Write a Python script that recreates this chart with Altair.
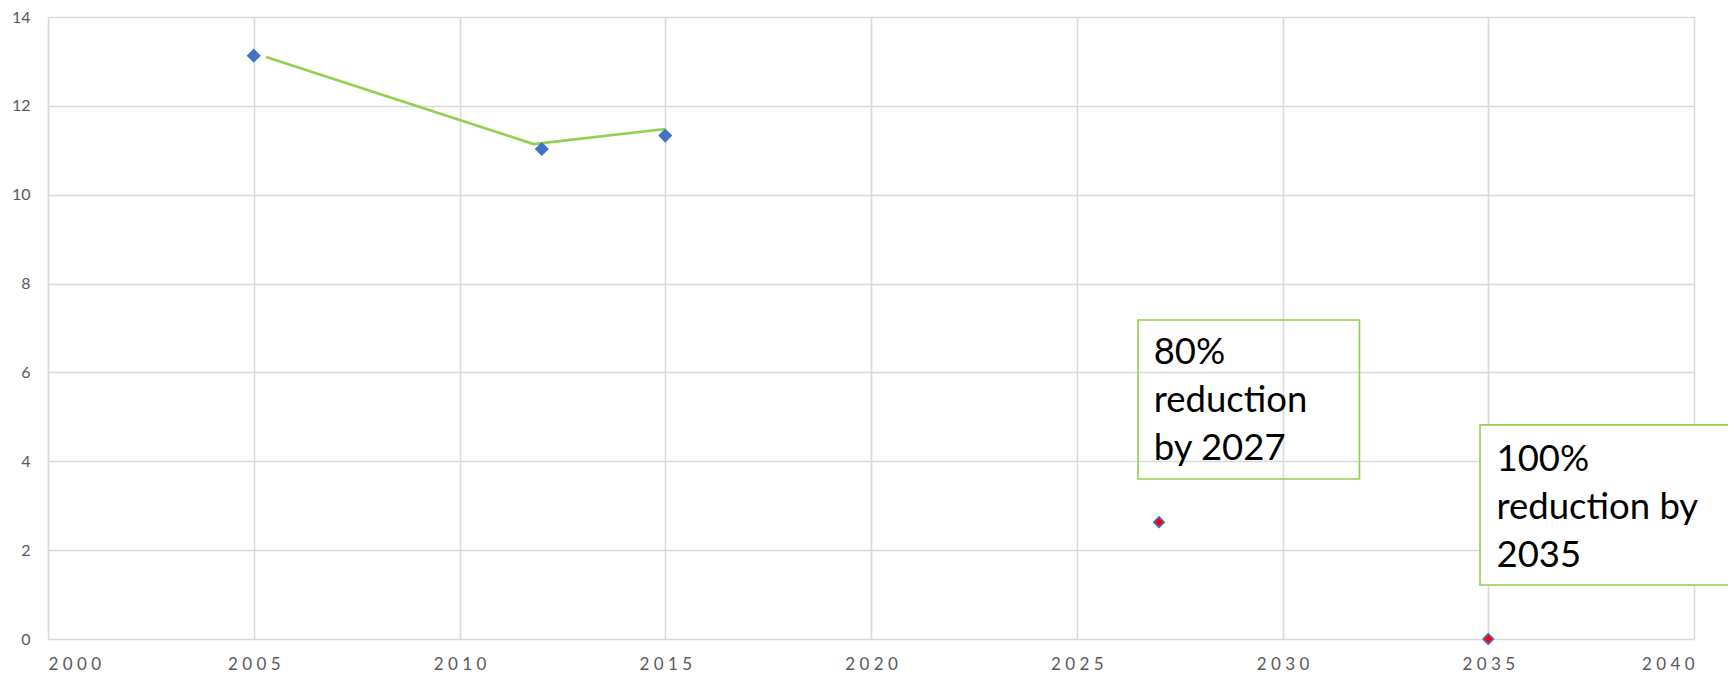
import altair as alt
import pandas as pd

# --- data ---
years = [2005, 2012, 2015]
values = [13.13, 11.03, 11.33]

line_years = [2005.3, 2011.8, 2015.0]
line_values = [13.10, 11.14, 11.48]

target_years = [2027, 2035]
target_values = [2.63, 0.0]

x_ticks = [2000, 2005, 2010, 2015, 2020, 2025, 2030, 2035, 2040]
y_ticks = [0, 2, 4, 6, 8, 10, 12, 14]

note_texts = ["80%\nreduction\nby 2027", "100%\nreduction by\n2035"]
note_x = [2026.87, 2035.2]
note_y = [6.19, 3.78]

box_x = [2026.49, 2034.8]
box_x2 = [2031.87, 2041.6]
box_y = [7.18, 4.82]
box_y2 = [3.60, 1.215]
box_fill = ["transparent", "white"]

# --- tables ---
pts = pd.DataFrame({"x": years, "y": values})
ln = pd.DataFrame({"x": line_years, "y": line_values})
tg = pd.DataFrame({"x": target_years, "y": target_values})
notes = pd.DataFrame({"x": note_x, "y": note_y, "t": note_texts})
boxes = pd.DataFrame({"x": box_x, "x2": box_x2, "y": box_y, "y2": box_y2, "f": box_fill})

GRID = "#d9d9d9"
LABEL = "#595959"
GREEN = "#92D050"
BLUE = "#4472C4"

X = alt.X(
    "x:Q",
    title=None,
    scale=alt.Scale(domain=[2000, 2040], nice=False, zero=False),
    axis=alt.Axis(
        values=x_ticks,
        format="d",
        grid=True,
        gridColor=GRID,
        gridWidth=1.6,
        domain=False,
        ticks=False,
        tickSize=0,
        labelFont="Lato",
        labelFontSize=17,
        labelColor=LABEL,
        labelPadding=17,
        labelExpr="join(split(datum.label, ''), ' ')",
    ),
)
Y = alt.Y(
    "y:Q",
    title=None,
    scale=alt.Scale(domain=[0, 14], nice=False),
    axis=alt.Axis(
        values=y_ticks,
        grid=True,
        gridColor=GRID,
        gridWidth=1.6,
        domain=False,
        ticks=False,
        tickSize=0,
        labelFont="Lato",
        labelFontSize=16,
        labelColor=LABEL,
        labelPadding=18,
    ),
)

line = alt.Chart(ln).mark_line(color=GREEN, strokeWidth=2.6).encode(x=X, y=Y)

points = alt.Chart(pts).mark_point(
    shape="diamond", filled=True, color=BLUE, size=200, opacity=1
).encode(x=X, y=Y)

targets = alt.Chart(tg).mark_point(
    shape="diamond", filled=True, fill="#FF0000", stroke=BLUE, strokeWidth=1.6, size=110, opacity=1
).encode(x=X, y=Y)

rects = alt.Chart(boxes).mark_rect(stroke=GREEN, strokeWidth=1.6).encode(
    x=X, x2="x2:Q", y=Y, y2="y2:Q", fill=alt.Fill("f:N", scale=None)
)

texts = alt.Chart(notes).mark_text(
    align="left", baseline="alphabetic", font="Lato", fontSize=36.5, lineHeight=48,
    color="#000000", lineBreak="\n"
).encode(x=X, y=Y, text="t:N")

chart = alt.layer(line, points, targets, rects, texts).properties(
    width=1646,
    height=622,
    autosize=alt.AutoSizeParams(type="none"),
    padding={"left": 40, "top": 9, "right": 34, "bottom": 36},
).configure_view(stroke=None)

chart.save("out.html", embed_options={"renderer": "svg", "actions": False})
